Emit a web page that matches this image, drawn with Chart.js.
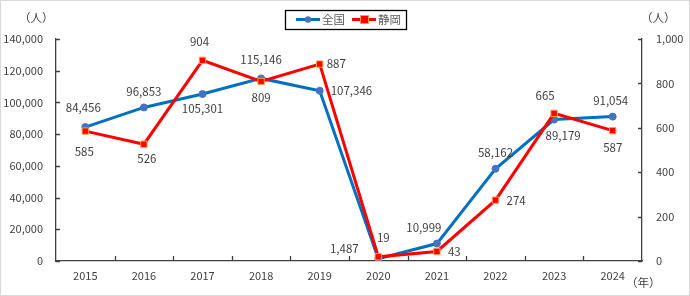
<!DOCTYPE html>
<html>
<head>
<meta charset="utf-8">
<script src="https://cdn.jsdelivr.net/npm/chart.js@4"></script>
<style>
  html, body { margin: 0; padding: 0; background: #fff; }
  #wrap { position: relative; width: 690px; height: 296px; }
  #frame { position: absolute; left: 0; top: 0; width: 690px; height: 296px; box-sizing: border-box; border: 1px solid #d9d9d9; pointer-events: none; }
</style>
</head>
<body>
<div id="wrap">
  <canvas id="chart" width="690" height="296"></canvas>
  <div id="frame"></div>
</div>
<script>
// data
const years = ['2015', '2016', '2017', '2018', '2019', '2020', '2021', '2022', '2023', '2024'];
const zenkoku = [84456, 96853, 105301, 115146, 107346, 1487, 10999, 58162, 89179, 91054];
const shizuoka = [585, 526, 904, 809, 887, 19, 43, 274, 665, 587];
const leftTicks = [0, 20000, 40000, 60000, 80000, 100000, 120000, 140000];
const rightTicks = [0, 200, 400, 600, 800, 1000];

// label offsets [dx, dy, align] for each point
const zenkokuLabelPos = [
    [-2, -19, 'center'], [0, -16, 'center'], [0, 15, 'center'], [0, -19, 'center'], [11, 0, 'left'],
    [-34, -10, 'center'], [-13, -16, 'center'], [0, -16, 'center'], [9, 16, 'center'], [-2, -16, 'center']
];
const shizuokaLabelPos = [
    [-1, 20, 'center'], [3, 14, 'center'], [-3, -19, 'center'], [0, 16, 'center'], [7, 0, 'left'],
    [5, -19, 'center'], [11, 0, 'left'], [11, 0, 'left'], [-9, -18, 'center'], [0, 17, 'center']
];

const FONT = '"Noto Sans CJK JP", "Noto Sans", sans-serif';
const TEXT = '#404040';

function fmt(v) {
    return v.toLocaleString('en-US');
}

// labels, inner ticks, unit captions and legend
const extras = {
    id: 'extras',
    afterDatasetsDraw(chart) {
        const ctx = chart.ctx;
        ctx.save();
        ctx.font = '11.5px ' + FONT;
        ctx.fillStyle = TEXT;
        ctx.textBaseline = 'middle';
        const sets = [[0, zenkokuLabelPos], [1, shizuokaLabelPos]];
        sets.forEach(([di, pos]) => {
            const meta = chart.getDatasetMeta(di);
            meta.data.forEach((pt, i) => {
                const p = pos[i];
                ctx.textAlign = p[2];
                ctx.fillText(fmt(chart.data.datasets[di].data[i]), pt.x + p[0], pt.y + p[1]);
            });
        });
        ctx.restore();
    },
    afterDraw(chart) {
        const ctx = chart.ctx;
        const a = chart.chartArea;
        ctx.save();
        ctx.strokeStyle = '#404040';
        ctx.lineWidth = 1.3;
        ctx.beginPath();
        // x ticks between categories, pointing up
        const xs = chart.scales.x;
        for (let i = 1; i < years.length; i++) {
            const x = Math.round((xs.getPixelForValue(i - 1) + xs.getPixelForValue(i)) / 2) + 0.5;
            ctx.moveTo(x, a.bottom);
            ctx.lineTo(x, a.bottom - 5);
        }
        const yl = chart.scales.y;
        leftTicks.forEach((v) => {
            const y = Math.round(yl.getPixelForValue(v)) + 0.5;
            ctx.moveTo(a.left, y);
            ctx.lineTo(a.left + 4, y);
        });
        const yr = chart.scales.y2;
        rightTicks.forEach((v) => {
            const y = Math.round(yr.getPixelForValue(v)) + 0.5;
            ctx.moveTo(a.right, y);
            ctx.lineTo(a.right - 4, y);
        });
        ctx.stroke();

        // unit captions
        ctx.font = '11.5px ' + FONT;
        ctx.fillStyle = TEXT;
        ctx.textBaseline = 'middle';
        ctx.textAlign = 'left';
        ctx.fillText('（人）', 19, 18);
        ctx.fillText('（人）', 641, 18);
        ctx.fillText('（年）', 626, 283);

        // legend box
        ctx.strokeStyle = '#000';
        ctx.lineWidth = 1.3;
        ctx.strokeRect(285.5, 10.5, 121, 19);
        ctx.lineWidth = 3;
        ctx.strokeStyle = '#0070C0';
        ctx.beginPath();
        ctx.moveTo(296, 19.5);
        ctx.lineTo(320, 19.5);
        ctx.stroke();
        ctx.fillStyle = '#4472C4';
        ctx.beginPath();
        ctx.arc(308, 19.5, 3.2, 0, Math.PI * 2);
        ctx.fill();
        ctx.strokeStyle = '#FF0000';
        ctx.beginPath();
        ctx.moveTo(352, 19.5);
        ctx.lineTo(376, 19.5);
        ctx.stroke();
        ctx.fillStyle = '#FF0000';
        ctx.fillRect(360.5, 15.5, 8, 8);
        ctx.strokeStyle = '#FFA040';
        ctx.lineWidth = 1;
        ctx.strokeRect(360.5, 15.5, 8, 8);
        ctx.fillStyle = '#595959';
        ctx.font = '11.5px ' + FONT;
        ctx.fillText('全国', 322, 19.5);
        ctx.fillText('静岡', 378, 19.5);
        ctx.restore();
    }
};

new Chart(document.getElementById('chart'), {
    type: 'line',
    data: {
        labels: years,
        datasets: [{
            label: '全国',
            data: zenkoku,
            yAxisID: 'y',
            borderColor: '#0070C0',
            borderWidth: 3,
            pointStyle: 'circle',
            pointRadius: 3.5,
            pointBackgroundColor: '#4472C4',
            pointBorderColor: '#4472C4',
            pointBorderWidth: 1,
            tension: 0,
            order: 1
        }, {
            label: '静岡',
            data: shizuoka,
            yAxisID: 'y2',
            borderColor: '#FF0000',
            borderWidth: 3,
            pointStyle: 'rect',
            pointRadius: 4.5,
            pointBackgroundColor: '#FF0000',
            pointBorderColor: '#FFA040',
            pointBorderWidth: 1,
            tension: 0,
            order: 0
        }]
    },
    options: {
        responsive: false,
        animation: false,
        layout: { padding: { top: 39, left: 0, right: 0, bottom: 0 } },
        plugins: {
            legend: { display: false },
            tooltip: { enabled: false }
        },
        scales: {
            x: {
                offset: true,
                grid: { display: false },
                border: { display: true, color: '#404040', width: 1.3 },
                ticks: { color: TEXT, font: { family: FONT, size: 11 }, padding: 0 },
                afterFit(s) { s.height = 35; }
            },
            y: {
                position: 'left',
                min: 0,
                max: 140000,
                afterBuildTicks(s) { s.ticks = leftTicks.map((v) => ({ value: v })); },
                grid: { display: false },
                border: { display: true, color: '#404040', width: 1.3 },
                ticks: { color: TEXT, font: { family: FONT, size: 11 }, padding: 5, callback: (v) => fmt(v) },
                afterFit(s) { s.width = 56; }
            },
            y2: {
                position: 'right',
                min: 0,
                max: 1000,
                afterBuildTicks(s) { s.ticks = rightTicks.map((v) => ({ value: v })); },
                grid: { display: false },
                border: { display: true, color: '#404040', width: 1.3 },
                ticks: { color: TEXT, font: { family: FONT, size: 11 }, padding: 6, callback: (v) => fmt(v) },
                afterFit(s) { s.width = 48; }
            }
        }
    },
    plugins: [extras]
});
</script>
</body>
</html>
